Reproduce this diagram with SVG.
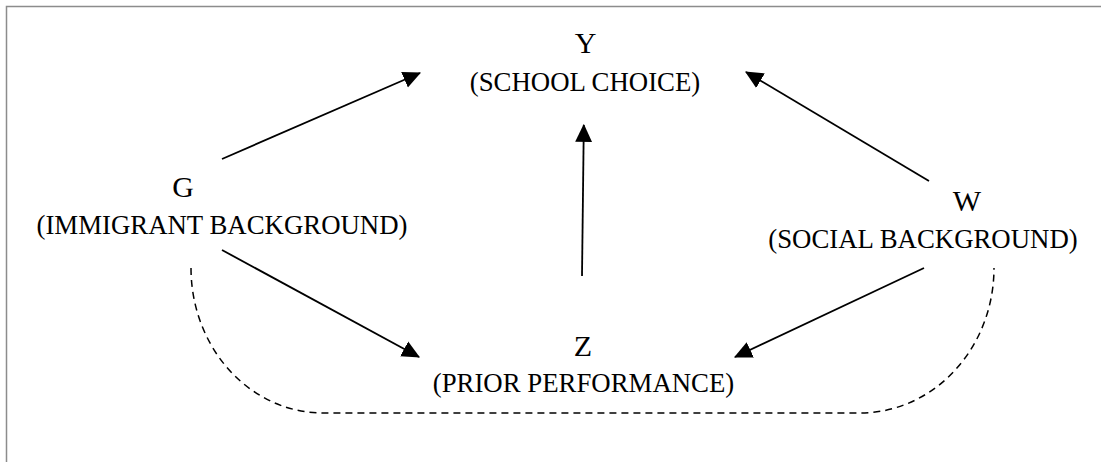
<svg xmlns="http://www.w3.org/2000/svg" width="1101" height="462" viewBox="0 0 1101 462">
  <style>
    .lbl { font-family: "Liberation Serif", "Times New Roman", serif; fill: #000; text-anchor: middle; }
    .big { font-size: 30px; }
    .sub { font-size: 26.8px; }
    .edge { stroke: #000; stroke-width: 1.8; fill: none; }
    .dash { stroke: #000; stroke-width: 1.5; fill: none; stroke-dasharray: 7 5; }
  </style>
  <defs>
    <marker id="arrow" markerUnits="userSpaceOnUse" markerWidth="18" markerHeight="18" viewBox="0 -8 16 16" refX="15" refY="0" orient="auto">
      <path d="M0,-7.5 L16,0 L0,7.5 Z" fill="#000"/>
    </marker>
  </defs>
  <rect width="1101" height="462" fill="#fff"/>
  <rect x="6.5" y="6.5" width="1200" height="600" fill="none" stroke="#8c8c8c" stroke-width="1.5"/>

  <g id="connectors">
    <line class="edge" x1="222" y1="159" x2="420" y2="73" marker-end="url(#arrow)"/>
    <line class="edge" x1="929" y1="181" x2="746" y2="72" marker-end="url(#arrow)"/>
    <line class="edge" x1="582" y1="276" x2="583.8" y2="125" marker-end="url(#arrow)"/>
    <line class="edge" x1="222" y1="250" x2="419" y2="357" marker-end="url(#arrow)"/>
    <line class="edge" x1="924" y1="268" x2="735" y2="357" marker-end="url(#arrow)"/>
    <path class="dash" d="M191,268 A132,145 0 0 0 323,413 L860,413 A134,145 0 0 0 994,268"/>
  </g>

  <g id="node-Y">
    <text class="lbl big" x="585.5" y="53">Y</text>
    <text class="lbl sub" x="585" y="91">(SCHOOL CHOICE)</text>
  </g>
  <g id="node-G">
    <text class="lbl big" x="183" y="197">G</text>
    <text class="lbl sub" x="222" y="234">(IMMIGRANT BACKGROUND)</text>
  </g>
  <g id="node-W">
    <text class="lbl big" x="967" y="211">W</text>
    <text class="lbl sub" x="923" y="248">(SOCIAL BACKGROUND)</text>
  </g>
  <g id="node-Z">
    <text class="lbl big" x="583" y="356">Z</text>
    <text class="lbl sub" x="583.5" y="392">(PRIOR PERFORMANCE)</text>
  </g>
</svg>
